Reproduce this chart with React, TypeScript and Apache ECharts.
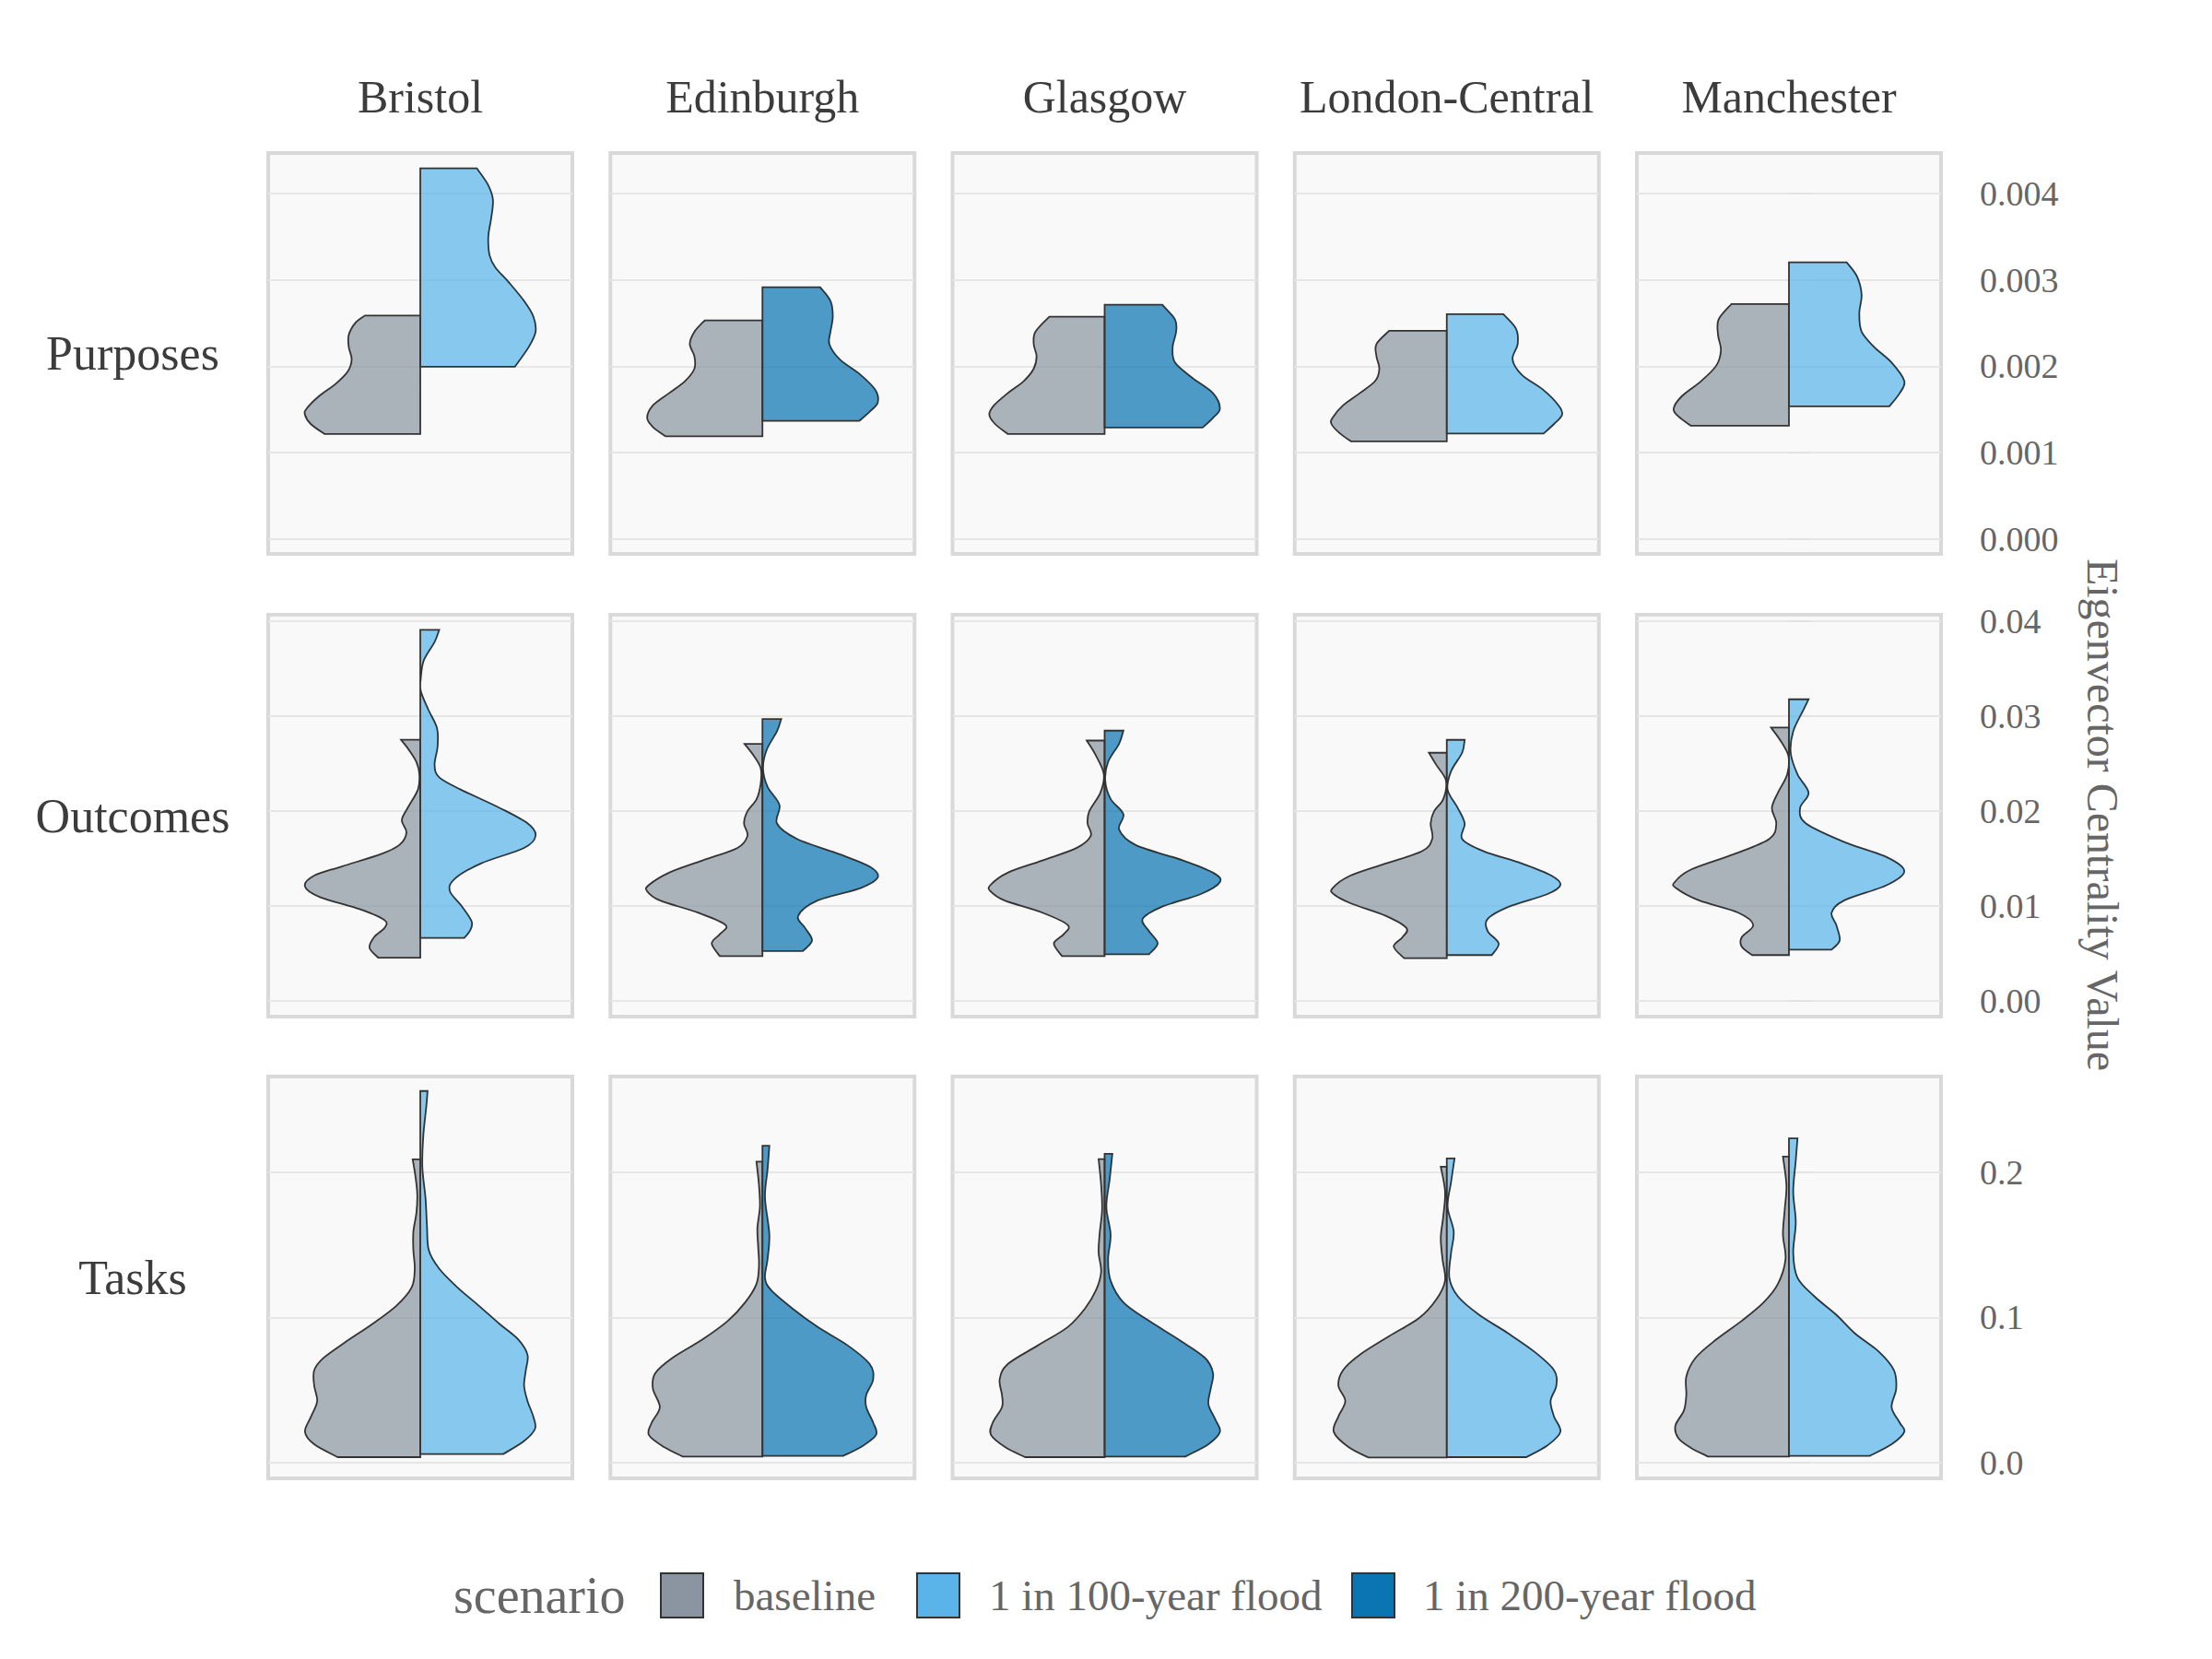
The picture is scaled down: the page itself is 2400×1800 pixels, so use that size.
import React, { useEffect, useRef } from 'react';
import * as echarts from 'echarts';

const cities = ['Bristol', 'Edinburgh', 'Glasgow', 'London-Central', 'Manchester'];
const measures = ['Purposes', 'Outcomes', 'Tasks'];
const scenarios = ['baseline', '1 in 100-year flood', '1 in 200-year flood'];
const cityFloodScenario = ['1 in 100-year flood', '1 in 200-year flood', '1 in 200-year flood', '1 in 100-year flood', '1 in 100-year flood'];
const scenarioColors = ['#8a95a1', '#5ab4e9', '#0b74b2'];

const purposesTicks = [0, 0.001, 0.002, 0.003, 0.004];
const outcomesTicks = [0, 0.01, 0.02, 0.03, 0.04];
const tasksTicks = [0, 0.1, 0.2];
const tickDecimals = [3, 2, 1];
const axisMin = [-0.000171, -0.00165, -0.0108];
const axisMax = [0.004469, 0.04068, 0.266];

// [value, relative half-width]
const bristolPurposesBase = [[0.002588,0.48],[0.002507,0.56],[0.002364,0.62],[0.002222,0.62],[0.00208,0.595],[0.001938,0.63],[0.001796,0.735],[0.001653,0.88],[0.001511,0.985],[0.00144,1.0],[0.001333,0.95],[0.001216,0.83]];
const bristolPurposesFlood = [[0.004292,0.49],[0.004107,0.585],[0.003929,0.63],[0.003716,0.615],[0.003502,0.59],[0.003289,0.6],[0.003147,0.65],[0.002969,0.77],[0.002756,0.9],[0.002578,0.98],[0.0024,1.0],[0.002222,0.94],[0.001995,0.82]];
const edinburghPurposesBase = [[0.002532,0.5],[0.0024,0.59],[0.002258,0.63],[0.002116,0.59],[0.001973,0.59],[0.001831,0.67],[0.001689,0.81],[0.001547,0.95],[0.001404,1.0],[0.001298,0.95],[0.001191,0.84]];
const edinburghPurposesFlood = [[0.002916,0.5],[0.002756,0.59],[0.002578,0.61],[0.0024,0.59],[0.002258,0.58],[0.00208,0.67],[0.001902,0.85],[0.001724,0.98],[0.001582,1.0],[0.001476,0.93],[0.001369,0.84]];
const glasgowPurposesBase = [[0.002574,0.48],[0.0024,0.6],[0.002258,0.615],[0.002116,0.59],[0.001973,0.615],[0.001831,0.7],[0.001689,0.84],[0.001547,0.96],[0.00144,1.0],[0.001333,0.95],[0.001216,0.84]];
const glasgowPurposesFlood = [[0.002713,0.5],[0.002542,0.61],[0.0024,0.62],[0.002222,0.59],[0.002044,0.61],[0.001867,0.76],[0.001689,0.94],[0.001511,1.0],[0.001404,0.94],[0.001291,0.85]];
const londonPurposesBase = [[0.002411,0.5],[0.002258,0.61],[0.002116,0.61],[0.001973,0.585],[0.001831,0.62],[0.001689,0.755],[0.001547,0.9],[0.001404,0.99],[0.001333,1.0],[0.001227,0.93],[0.001131,0.83]];
const londonPurposesFlood = [[0.002603,0.49],[0.002436,0.6],[0.002258,0.615],[0.00208,0.57],[0.001902,0.65],[0.001724,0.84],[0.001547,0.97],[0.00144,1.0],[0.001333,0.93],[0.001223,0.84]];
const manchesterPurposesBase = [[0.00272,0.5],[0.002542,0.61],[0.002364,0.615],[0.002187,0.59],[0.002009,0.63],[0.001831,0.76],[0.001653,0.93],[0.001511,1.0],[0.001422,0.96],[0.001312,0.85]];
const manchesterPurposesFlood = [[0.003204,0.5],[0.00304,0.59],[0.002827,0.63],[0.002613,0.61],[0.0024,0.63],[0.002222,0.74],[0.002044,0.89],[0.001831,1.0],[0.001689,0.96],[0.001536,0.87]];

const bristolOutcomesBase = [[0.02751,0.167],[0.02647,0.1],[0.02518,0.034],[0.02388,0.008],[0.02227,0.02],[0.02032,0.11],[0.01903,0.16],[0.01773,0.12],[0.01644,0.18],[0.01547,0.34],[0.01417,0.68],[0.0132,0.92],[0.01207,1.0],[0.01094,0.87],[0.00964,0.52],[0.00851,0.31],[0.0077,0.31],[0.00673,0.4],[0.0056,0.44],[0.00456,0.365]];
const bristolOutcomesFlood = [[0.03909,0.164],[0.0378,0.124],[0.03586,0.03],[0.03392,0.004],[0.03262,0.005],[0.03068,0.07],[0.02874,0.145],[0.0268,0.15],[0.02485,0.124],[0.02356,0.164],[0.02227,0.35],[0.02032,0.69],[0.01871,0.93],[0.01741,1.0],[0.01612,0.9],[0.0145,0.53],[0.01288,0.3],[0.01159,0.256],[0.00997,0.36],[0.00835,0.446],[0.00738,0.43],[0.00663,0.38]];
const edinburghOutcomesBase = [[0.02708,0.155],[0.02581,0.074],[0.02452,0.015],[0.0229,0.015],[0.02128,0.05],[0.01998,0.13],[0.01869,0.16],[0.01739,0.13],[0.0161,0.22],[0.0148,0.52],[0.01351,0.81],[0.01221,0.985],[0.01156,1.0],[0.01059,0.89],[0.0093,0.56],[0.008,0.32],[0.00703,0.37],[0.00606,0.44],[0.00473,0.37]];
const edinburghOutcomesFlood = [[0.0297,0.163],[0.0284,0.126],[0.02646,0.037],[0.02452,0.005],[0.02257,0.044],[0.02063,0.148],[0.01869,0.126],[0.01707,0.3],[0.01545,0.67],[0.01415,0.93],[0.01302,1.0],[0.01189,0.85],[0.01059,0.48],[0.00897,0.31],[0.00768,0.37],[0.00638,0.43],[0.00525,0.35]];
const glasgowOutcomesBase = [[0.02743,0.155],[0.02581,0.074],[0.02387,0.007],[0.02193,0.037],[0.01998,0.133],[0.01869,0.148],[0.01739,0.12],[0.0161,0.245],[0.0148,0.54],[0.01351,0.84],[0.01221,0.99],[0.01156,0.99],[0.01059,0.87],[0.0093,0.54],[0.008,0.32],[0.00703,0.355],[0.00606,0.44],[0.00473,0.37]];
const glasgowOutcomesFlood = [[0.02847,0.163],[0.02711,0.126],[0.02517,0.03],[0.02322,0.005],[0.02128,0.052],[0.01966,0.163],[0.01804,0.126],[0.01642,0.27],[0.0148,0.68],[0.01351,0.94],[0.01253,1.0],[0.01124,0.83],[0.00994,0.5],[0.00865,0.33],[0.00735,0.385],[0.00606,0.46],[0.00492,0.385]];
const londonOutcomesBase = [[0.02614,0.155],[0.02484,0.09],[0.02322,0.007],[0.02128,0.03],[0.01998,0.11],[0.01869,0.14],[0.01707,0.126],[0.01577,0.215],[0.01448,0.53],[0.01318,0.84],[0.01189,0.99],[0.01124,0.98],[0.01027,0.83],[0.00897,0.53],[0.00768,0.35],[0.0067,0.385],[0.00573,0.46],[0.0045,0.37]];
const londonOutcomesFlood = [[0.0275,0.155],[0.02614,0.133],[0.02419,0.037],[0.02225,0.007],[0.02031,0.096],[0.01869,0.155],[0.01707,0.133],[0.01577,0.32],[0.01448,0.65],[0.01318,0.91],[0.01221,0.985],[0.01124,0.87],[0.00994,0.54],[0.00865,0.355],[0.00735,0.355],[0.00606,0.45],[0.00483,0.39]];
const manchesterOutcomesBase = [[0.02879,0.155],[0.02743,0.074],[0.02581,0.005],[0.02387,0.015],[0.02193,0.096],[0.02031,0.148],[0.01869,0.11],[0.01707,0.17],[0.01545,0.48],[0.01383,0.85],[0.01253,0.99],[0.01189,0.98],[0.01059,0.78],[0.0093,0.44],[0.008,0.31],[0.0067,0.41],[0.00573,0.41],[0.00483,0.32]];
const manchesterOutcomesFlood = [[0.03177,0.17],[0.03067,0.126],[0.0284,0.037],[0.02614,0.015],[0.02387,0.074],[0.02193,0.17],[0.02031,0.096],[0.01869,0.148],[0.01674,0.48],[0.01513,0.85],[0.01367,1.0],[0.01221,0.85],[0.01059,0.48],[0.0093,0.37],[0.008,0.41],[0.00638,0.44],[0.00541,0.37]];

const bristolTasksBase = [[0.2089,0.066],[0.1972,0.042],[0.1845,0.026],[0.1718,0.034],[0.1591,0.06],[0.1463,0.06],[0.1336,0.048],[0.1209,0.074],[0.1082,0.206],[0.0954,0.418],[0.0827,0.656],[0.0721,0.84],[0.0636,0.92],[0.053,0.92],[0.0424,0.894],[0.0318,0.947],[0.0212,1.0],[0.0127,0.92],[0.0038,0.717]];
const bristolTasksFlood = [[0.256,0.063],[0.246,0.053],[0.2248,0.026],[0.2036,0.018],[0.1824,0.045],[0.1633,0.058],[0.1463,0.074],[0.1336,0.164],[0.1209,0.32],[0.1082,0.507],[0.0954,0.69],[0.0848,0.85],[0.0742,0.93],[0.0636,0.915],[0.053,0.9],[0.0424,0.93],[0.0318,0.98],[0.0233,0.995],[0.0149,0.9],[0.00594,0.72]];
const edinburghTasksBase = [[0.2074,0.052],[0.1911,0.03],[0.1762,0.022],[0.1614,0.044],[0.1486,0.037],[0.1359,0.03],[0.1231,0.052],[0.1104,0.15],[0.0977,0.3],[0.0849,0.52],[0.0722,0.78],[0.0616,0.93],[0.051,0.95],[0.0382,0.89],[0.0276,0.96],[0.0191,0.985],[0.0106,0.85],[0.0042,0.69]];
const edinburghTasksFlood = [[0.2183,0.06],[0.2017,0.044],[0.1826,0.022],[0.1571,0.06],[0.1401,0.044],[0.1274,0.022],[0.1189,0.074],[0.1062,0.26],[0.0934,0.48],[0.0807,0.74],[0.0679,0.93],[0.0573,0.96],[0.0467,0.9],[0.0382,0.9],[0.0276,0.96],[0.0191,0.985],[0.0106,0.85],[0.00467,0.7]];
const glasgowTasksBase = [[0.2091,0.052],[0.1911,0.03],[0.1741,0.022],[0.1571,0.044],[0.1444,0.052],[0.1316,0.03],[0.1189,0.074],[0.1062,0.17],[0.0934,0.32],[0.0807,0.58],[0.0679,0.84],[0.0573,0.91],[0.0467,0.89],[0.0382,0.89],[0.0276,0.97],[0.0191,0.985],[0.0106,0.86],[0.0038,0.69]];
const glasgowTasksFlood = [[0.2127,0.067],[0.1953,0.044],[0.1762,0.015],[0.1571,0.052],[0.1401,0.03],[0.1253,0.052],[0.1104,0.163],[0.0977,0.385],[0.0849,0.64],[0.0722,0.87],[0.0616,0.94],[0.051,0.92],[0.0403,0.9],[0.0297,0.96],[0.0212,1.0],[0.0127,0.9],[0.0042,0.7]];
const londonTasksBase = [[0.2038,0.052],[0.1868,0.015],[0.1699,0.03],[0.155,0.052],[0.1401,0.037],[0.1253,0.015],[0.1125,0.09],[0.0998,0.237],[0.0871,0.5],[0.0743,0.755],[0.0637,0.9],[0.0531,0.94],[0.0425,0.88],[0.0318,0.94],[0.0212,0.98],[0.0106,0.85],[0.0036,0.68]];
const londonTasksFlood = [[0.2096,0.067],[0.1932,0.037],[0.1762,0.007],[0.1592,0.06],[0.1444,0.037],[0.1274,0.022],[0.1146,0.096],[0.1019,0.28],[0.0892,0.53],[0.0764,0.76],[0.0637,0.93],[0.0531,0.95],[0.0425,0.9],[0.0318,0.93],[0.0212,0.985],[0.0117,0.87],[0.0038,0.69]];
const manchesterTasksBase = [[0.2108,0.052],[0.1911,0.022],[0.1741,0.037],[0.1571,0.052],[0.1401,0.03],[0.1231,0.096],[0.1104,0.22],[0.0977,0.41],[0.0849,0.63],[0.0722,0.81],[0.0594,0.89],[0.0467,0.89],[0.0361,0.91],[0.0255,0.985],[0.017,0.96],[0.0102,0.85],[0.0042,0.7]];
const manchesterTasksFlood = [[0.2234,0.074],[0.2081,0.059],[0.1868,0.037],[0.1656,0.059],[0.1444,0.037],[0.1274,0.074],[0.1146,0.22],[0.1019,0.41],[0.0892,0.57],[0.0764,0.78],[0.0637,0.91],[0.051,0.93],[0.0382,0.89],[0.0276,0.96],[0.0212,1.0],[0.0127,0.89],[0.00467,0.7]];

const profiles = [
  [[bristolPurposesBase, bristolPurposesFlood], [edinburghPurposesBase, edinburghPurposesFlood], [glasgowPurposesBase, glasgowPurposesFlood], [londonPurposesBase, londonPurposesFlood], [manchesterPurposesBase, manchesterPurposesFlood]],
  [[bristolOutcomesBase, bristolOutcomesFlood], [edinburghOutcomesBase, edinburghOutcomesFlood], [glasgowOutcomesBase, glasgowOutcomesFlood], [londonOutcomesBase, londonOutcomesFlood], [manchesterOutcomesBase, manchesterOutcomesFlood]],
  [[bristolTasksBase, bristolTasksFlood], [edinburghTasksBase, edinburghTasksFlood], [glasgowTasksBase, glasgowTasksFlood], [londonTasksBase, londonTasksFlood], [manchesterTasksBase, manchesterTasksFlood]],
];
const rowTicks = [purposesTicks, outcomesTicks, tasksTicks];

const FONT = 'Liberation Serif';
const PANEL_LEFT0 = 291;
const PANEL_STEP = 371.25;
const PANEL_W = 330;
const ROW_TOP = [166, 667, 1168];
const ROW_H = [435, 436, 436];
const HALF = 0.455;

function rgba(hex: string, a: number) {
  const rr = parseInt(hex.slice(1, 3), 16);
  const gg = parseInt(hex.slice(3, 5), 16);
  const bb = parseInt(hex.slice(5, 7), 16);
  return `rgba(${rr},${gg},${bb},${a})`;
}

function colorFor(name: string) {
  return scenarioColors[scenarios.indexOf(name)];
}

function makeRender(profile: number[][], side: number) {
  return (params: any, api: any) => {
    const pts = profile.map(([v, w]) => {
      const c = api.coord([0, v]);
      const hw = api.size([HALF, 0])[0] * w;
      return [c[0] + side * hw, c[1]];
    });
    const top = api.coord([0, profile[0][0]]);
    const bot = api.coord([0, profile[profile.length - 1][0]]);
    let d = `M${top[0]},${top[1]} L${pts[0][0]},${pts[0][1]}`;
    for (let i = 0; i < pts.length - 1; i++) {
      const p0 = pts[Math.max(0, i - 1)];
      const p1 = pts[i];
      const p2 = pts[i + 1];
      const p3 = pts[Math.min(pts.length - 1, i + 2)];
      const c1x = p1[0] + (p2[0] - p0[0]) / 6;
      const c1y = p1[1] + (p2[1] - p0[1]) / 6;
      const c2x = p2[0] - (p3[0] - p1[0]) / 6;
      const c2y = p2[1] - (p3[1] - p1[1]) / 6;
      d += ` C${c1x},${c1y} ${c2x},${c2y} ${p2[0]},${p2[1]}`;
    }
    d += ` L${bot[0]},${bot[1]} Z`;
    return {
      type: 'path',
      shape: { pathData: d },
      style: {
        fill: api.visual('color'),
        stroke: '#333333',
        lineWidth: 1.8,
      },
    };
  };
}

export default function App() {
  const ref = useRef<HTMLDivElement>(null);
  useEffect(() => {
    if (!ref.current) return;
    const chart = echarts.init(ref.current, undefined, { renderer: 'svg' });
    const grids: any[] = [];
    const xAxes: any[] = [];
    const yAxes: any[] = [];
    const series: any[] = [];
    const graphics: any[] = [];
    measures.forEach((m, r) => {
      cities.forEach((city, c) => {
        const k = r * 5 + c;
        grids.push({
          left: PANEL_LEFT0 + c * PANEL_STEP,
          top: ROW_TOP[r],
          width: PANEL_W,
          height: ROW_H[r],
          show: true,
          backgroundColor: '#f9f9f9',
          borderColor: '#d9d9d9',
          borderWidth: 4,
        });
        xAxes.push({ gridIndex: k, type: 'value', min: -0.6, max: 0.6, show: false, splitLine: { show: false } });
        const last = c === 4;
        yAxes.push({
          gridIndex: k,
          type: 'value',
          min: axisMin[r],
          max: axisMax[r],
          position: 'right',
          axisLine: { show: false },
          axisTick: {
            show: last,
            length: 24,
            customValues: rowTicks[r],
            lineStyle: { color: '#e2e2e2', width: 2 },
          },
          axisLabel: {
            show: last,
            customValues: rowTicks[r],
            margin: 42,
            color: '#666666',
            fontSize: 38,
            fontFamily: FONT,
            formatter: (v: number) => v.toFixed(tickDecimals[r]),
          },
          splitLine: { show: true, lineStyle: { color: '#e6e6e6', width: 2 } },
        });
        const pair = profiles[r][c];
        const names = ['baseline', cityFloodScenario[c]];
        [0, 1].forEach((s) => {
          series.push({
            type: 'custom',
            name: names[s],
            xAxisIndex: k,
            yAxisIndex: k,
            clip: false,
            color: rgba(colorFor(names[s]), 0.72),
            data: [[0, pair[s][0][0]]],
            encode: { x: 0, y: 1 },
            renderItem: makeRender(pair[s], s === 0 ? -1 : 1),
            z: 5,
          });
        });
      });
    });

    cities.forEach((city, c) => {
      graphics.push({
        type: 'text',
        x: PANEL_LEFT0 + c * PANEL_STEP + PANEL_W / 2,
        y: 105,
        style: { text: city, fontSize: 50, fontFamily: FONT, fill: '#3c3c3c', textAlign: 'center', textVerticalAlign: 'middle' },
      });
    });
    measures.forEach((m, r) => {
      graphics.push({
        type: 'text',
        x: 144,
        y: ROW_TOP[r] + ROW_H[r] / 2,
        style: { text: m, fontSize: 52, fontFamily: FONT, fill: '#3c3c3c', textAlign: 'center', textVerticalAlign: 'middle' },
      });
    });
    graphics.push({
      type: 'text',
      x: 2281,
      y: 884,
      rotation: -Math.PI / 2,
      style: { text: 'Eigenvector Centrality Value', fontSize: 48, fontFamily: FONT, fill: '#666666', textAlign: 'center', textVerticalAlign: 'middle' },
    });
    graphics.push({
      type: 'text',
      x: 492,
      y: 1731,
      style: { text: 'scenario', fontSize: 56, fontFamily: FONT, fill: '#666666', textAlign: 'left', textVerticalAlign: 'middle' },
    });
    const boxX = [717, 995, 1467];
    const labelX = [796, 1073, 1544];
    scenarios.forEach((s, i) => {
      graphics.push({
        type: 'rect',
        shape: { x: boxX[i], y: 1707, width: 46, height: 48 },
        style: { fill: scenarioColors[i], stroke: '#333333', lineWidth: 2 },
      });
      graphics.push({
        type: 'text',
        x: labelX[i],
        y: 1731,
        style: { text: s, fontSize: 47, fontFamily: FONT, fill: '#666666', textAlign: 'left', textVerticalAlign: 'middle' },
      });
    });

    chart.setOption({
      animation: false,
      backgroundColor: '#ffffff',
      textStyle: { fontFamily: FONT },
      grid: grids,
      xAxis: xAxes,
      yAxis: yAxes,
      series,
      graphic: graphics,
    });
    return () => chart.dispose();
  }, []);
  return <div ref={ref} style={{ position: 'fixed', left: 0, top: 0, width: 2400, height: 1800 }} />;
}
